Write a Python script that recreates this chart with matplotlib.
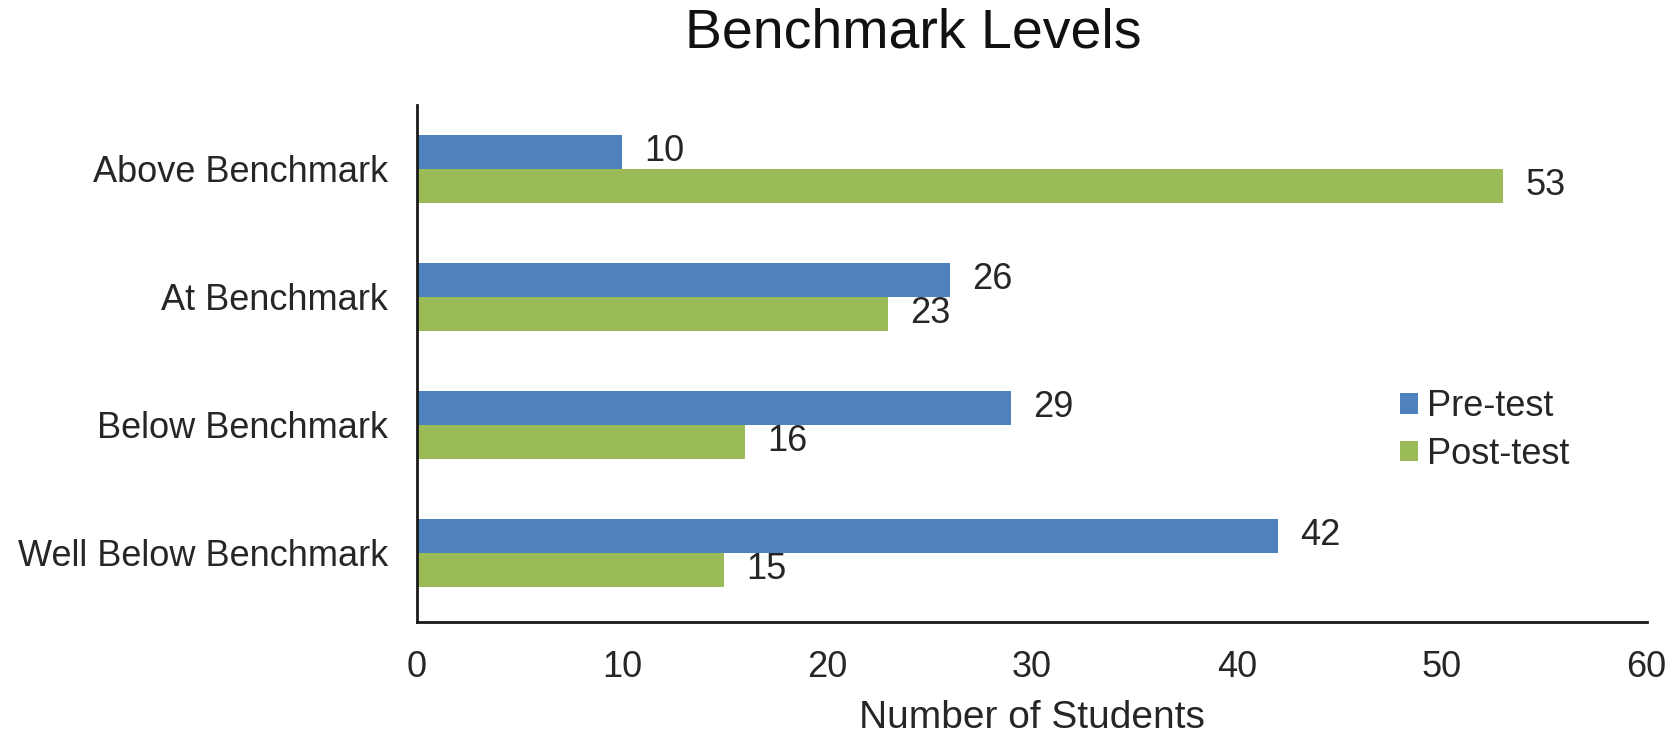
import numpy as np
import matplotlib.pyplot as plt

plt.rcParams['font.family'] = ['Liberation Sans', 'DejaVu Sans']

COLOR_PRE = "#4F81BD"
COLOR_POST = "#9BBB59"
TEXT_COLOR = "#262626"

categories = ["Well Below Benchmark", "Below Benchmark", "At Benchmark", "Above Benchmark"]
pre_test = [42, 29, 26, 10]
post_test = [15, 16, 23, 53]
x_ticks = [0, 10, 20, 30, 40, 50, 60]

bar_h = 0.265
label_size = 26

fig = plt.figure(figsize=(16.75, 7.37), dpi=100)
ax = fig.add_axes([0.249, 0.156, 0.734, 0.702])

y = np.arange(len(categories))
bars_pre = ax.barh(y + bar_h / 2, pre_test, height=bar_h, color=COLOR_PRE, label="Pre-test")
bars_post = ax.barh(y - bar_h / 2, post_test, height=bar_h, color=COLOR_POST, label="Post-test")

# value labels to the right of each bar
for bars, vals in [(bars_pre, pre_test), (bars_post, post_test)]:
    for b, v in zip(bars, vals):
        ax.annotate(str(v), (b.get_width(), b.get_y() + b.get_height() / 2),
                    xytext=(16, 0), textcoords="offset points",
                    va="center", ha="left", fontsize=label_size, color=TEXT_COLOR)

ax.set_xlim(0, 60)
ax.set_ylim(-0.54, 3.5)
ax.set_xticks(x_ticks)
ax.set_yticks(y)
ax.set_yticklabels(categories)
ax.tick_params(axis="both", length=0, labelsize=label_size, colors=TEXT_COLOR)
ax.tick_params(axis="y", pad=21)
ax.tick_params(axis="x", pad=20)

for side in ["top", "right"]:
    ax.spines[side].set_visible(False)
for side in ["left", "bottom"]:
    ax.spines[side].set_linewidth(2)
    ax.spines[side].set_color("#1a1a1a")

ax.set_xlabel("Number of Students", fontsize=28, color=TEXT_COLOR, labelpad=11)
fig.suptitle("Benchmark Levels", fontsize=40, color="#111111", x=0.545, y=0.99)

ax.legend(loc="center left", bbox_to_anchor=(0.773, 0.37), frameon=False,
          fontsize=label_size, handlelength=0.5, handleheight=0.5, handletextpad=0.25,
          labelspacing=0.35, labelcolor=TEXT_COLOR)

fig.savefig("out.png", dpi=100)
